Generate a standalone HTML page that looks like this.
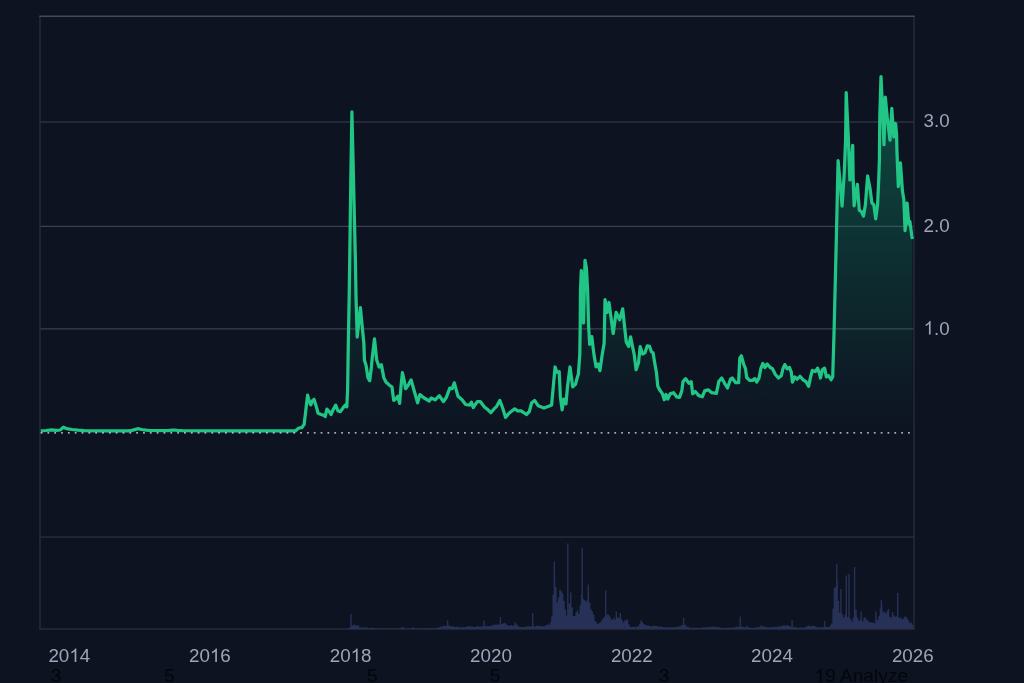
<!DOCTYPE html>
<html lang="en">
<head>
<meta charset="utf-8">
<title>XRP price chart</title>
<style>
html,body{margin:0;padding:0;background:#0d1321;}
body{width:1024px;height:683px;overflow:hidden;position:relative;font-family:"Liberation Sans",sans-serif;}
svg{position:absolute;left:0;top:0;display:block;will-change:transform;}
text{font-family:"Liberation Sans",sans-serif;}
</style>
</head>
<body>
<svg width="1024" height="683" viewBox="0 0 1024 683">
<defs>
<linearGradient id="g" gradientUnits="userSpaceOnUse" x1="0" y1="60" x2="0" y2="432">
<stop offset="0" stop-color="#10b981" stop-opacity="0.36"/>
<stop offset="1" stop-color="#10b981" stop-opacity="0"/>
</linearGradient>
</defs>
<rect x="0" y="0" width="1024" height="683" fill="#0d1321"/>
<!-- grid -->
<g stroke="#394151" stroke-width="1.2" fill="none">
<line x1="40" y1="122" x2="914" y2="122"/>
<line x1="40" y1="226.4" x2="914" y2="226.4"/>
<line x1="40" y1="328.8" x2="914" y2="328.8"/>
</g>
<!-- frame -->
<g fill="none" stroke-width="1.4">
<line x1="40" y1="16" x2="40" y2="629.6" stroke="#262d3d"/>
<line x1="914" y1="16" x2="914" y2="629.6" stroke="#262d3d"/>
<line x1="39.3" y1="629" x2="914.7" y2="629" stroke="#262d3d"/>
<line x1="39.3" y1="537" x2="914.7" y2="537" stroke="#262d3d"/>
<line x1="39.3" y1="16.2" x2="914.7" y2="16.2" stroke="#434a5a"/>
</g>
<!-- volume -->
<path d="M347.70 629V628.5M349.06 629V628.4M350.41 629V627.0M351.76 629V625.8M353.11 629V625.2M354.46 629V624.3M355.82 629V626.0M357.17 629V625.2M358.52 629V625.5M359.87 629V627.6M361.22 629V627.5M362.58 629V627.2M363.93 629V627.6M365.28 629V627.4M366.63 629V627.3M367.98 629V627.7M369.34 629V628.2M370.69 629V628.0M372.04 629V627.4M373.39 629V628.1M374.74 629V628.2M376.10 629V628.5M377.45 629V628.5M378.80 629V628.5M380.15 629V628.5M381.50 629V628.4M382.86 629V628.5M384.21 629V628.5M385.56 629V628.5M386.91 629V628.5M388.26 629V628.5M389.62 629V628.6M392.32 629V628.6M393.67 629V628.5M395.02 629V628.6M396.38 629V628.6M397.73 629V628.5M399.08 629V628.6M400.43 629V628.4M401.78 629V627.4M403.14 629V626.8M404.49 629V628.5M405.84 629V628.4M407.19 629V628.4M408.54 629V628.3M409.90 629V628.4M411.25 629V628.5M412.60 629V627.6M413.95 629V627.6M415.30 629V628.4M416.66 629V628.4M418.01 629V628.5M419.36 629V628.4M420.71 629V628.5M422.06 629V628.3M423.42 629V628.3M424.77 629V628.3M426.12 629V628.2M427.47 629V628.4M428.82 629V628.3M430.18 629V628.3M431.53 629V628.3M432.88 629V628.3M434.23 629V628.2M435.58 629V628.2M436.94 629V628.0M438.29 629V627.4M439.64 629V627.3M440.99 629V626.5M442.34 629V626.4M443.70 629V625.8M445.05 629V625.7M446.40 629V626.3M447.75 629V626.1M449.10 629V625.6M450.46 629V626.5M451.81 629V626.1M453.16 629V626.6M454.51 629V626.9M455.86 629V627.1M457.22 629V626.6M458.57 629V627.3M459.92 629V627.2M461.27 629V627.2M462.62 629V626.9M463.98 629V627.4M465.33 629V626.9M466.68 629V626.7M468.03 629V626.3M469.38 629V626.2M470.74 629V626.2M472.09 629V626.8M473.44 629V626.8M474.79 629V626.9M476.14 629V626.5M477.50 629V626.1M478.85 629V626.7M480.20 629V626.5M481.55 629V626.4M482.90 629V626.4M484.26 629V626.1M485.61 629V626.0M486.96 629V626.3M488.31 629V626.6M489.66 629V626.0M491.02 629V626.0M492.37 629V625.6M493.72 629V624.7M495.07 629V624.8M496.42 629V624.8M497.78 629V624.5M499.13 629V624.4M500.48 629V625.5M501.83 629V624.0M503.18 629V623.6M504.54 629V622.8M505.89 629V623.8M507.24 629V625.2M508.59 629V625.5M509.94 629V625.9M511.30 629V625.0M512.65 629V625.8M514.00 629V625.2M515.35 629V622.2M516.70 629V624.4M518.06 629V626.0M519.41 629V626.7M520.76 629V627.0M522.11 629V627.1M523.46 629V627.1M524.82 629V626.8M526.17 629V627.0M527.52 629V626.1M528.87 629V626.3M530.22 629V626.6M531.58 629V626.4M532.93 629V626.3M534.28 629V626.3M535.63 629V626.6M536.98 629V625.7M538.34 629V625.6M539.69 629V626.2M541.04 629V626.0M542.39 629V626.4M543.74 629V626.2M545.10 629V625.7M546.45 629V625.6M547.80 629V624.2M549.15 629V624.9M550.50 629V622.5M551.86 629V616.4M553.21 629V594.8M554.56 629V575.2M555.91 629V587.0M557.26 629V602.3M558.62 629V597.4M559.97 629V589.7M561.32 629V591.2M562.67 629V593.4M564.02 629V601.0M565.38 629V609.4M566.73 629V615.8M568.08 629V609.4M569.43 629V603.4M570.78 629V592.6M572.14 629V607.6M573.49 629V616.2M574.84 629V616.1M576.19 629V612.2M577.54 629V610.6M578.90 629V613.8M580.25 629V605.4M581.60 629V594.8M582.95 629V598.8M584.30 629V599.8M585.66 629V601.3M587.01 629V600.5M588.36 629V594.2M589.71 629V602.6M591.06 629V609.4M592.42 629V611.4M593.77 629V615.0M595.12 629V621.1M596.47 629V622.3M597.82 629V624.0M599.18 629V622.9M600.53 629V622.3M601.88 629V620.3M603.23 629V617.9M604.58 629V616.7M605.94 629V616.7M607.29 629V614.6M608.64 629V614.7M609.99 629V616.5M611.34 629V619.3M612.70 629V619.3M614.05 629V617.7M615.40 629V620.0M616.75 629V618.0M618.10 629V617.4M619.46 629V618.1M620.81 629V618.7M622.16 629V620.2M623.51 629V622.5M624.86 629V620.5M626.22 629V620.2M627.57 629V619.6M628.92 629V624.5M630.27 629V626.8M631.62 629V627.2M632.98 629V626.8M634.33 629V626.8M635.68 629V627.2M637.03 629V626.7M638.38 629V626.0M639.74 629V624.1M641.09 629V620.3M642.44 629V622.1M643.79 629V623.9M645.14 629V624.7M646.50 629V625.3M647.85 629V625.8M649.20 629V625.6M650.55 629V626.3M651.90 629V626.5M653.26 629V625.4M654.61 629V625.9M655.96 629V626.1M657.31 629V625.9M658.66 629V626.7M660.02 629V626.5M661.37 629V626.6M662.72 629V627.2M664.07 629V627.2M665.42 629V627.2M666.78 629V627.3M668.13 629V627.1M669.48 629V627.4M670.83 629V627.3M672.18 629V627.5M673.54 629V626.9M674.89 629V627.3M676.24 629V627.1M677.59 629V626.8M678.94 629V626.2M680.30 629V626.4M681.65 629V625.0M683.00 629V625.2M684.35 629V624.8M685.70 629V625.2M687.06 629V626.7M688.41 629V626.8M689.76 629V627.6M691.11 629V627.9M692.46 629V627.5M693.82 629V627.9M695.17 629V627.8M696.52 629V627.7M697.87 629V627.8M699.22 629V628.0M700.58 629V627.8M701.93 629V627.6M703.28 629V627.3M704.63 629V627.5M705.98 629V627.1M707.34 629V627.3M708.69 629V627.2M710.04 629V626.7M711.39 629V626.9M712.74 629V626.8M714.10 629V626.8M715.45 629V626.7M716.80 629V627.2M718.15 629V627.1M719.50 629V627.5M720.86 629V627.7M722.21 629V627.8M723.56 629V627.9M724.91 629V627.9M726.26 629V627.9M727.62 629V627.7M728.97 629V627.8M730.32 629V627.7M731.67 629V627.5M733.02 629V627.7M734.38 629V627.4M735.73 629V626.9M737.08 629V626.7M738.43 629V627.0M739.78 629V626.8M741.14 629V626.2M742.49 629V626.9M743.84 629V627.1M745.19 629V627.4M746.54 629V625.7M747.90 629V627.2M749.25 629V627.4M750.60 629V627.9M751.95 629V627.7M753.30 629V627.8M754.66 629V628.1M756.01 629V627.5M757.36 629V627.1M758.71 629V627.3M760.06 629V626.4M761.42 629V625.3M762.77 629V626.6M764.12 629V626.5M765.47 629V626.7M766.82 629V627.3M768.18 629V627.2M769.53 629V627.2M770.88 629V627.3M772.23 629V627.3M773.58 629V627.1M774.94 629V626.7M776.29 629V627.2M777.64 629V626.5M778.99 629V626.4M780.34 629V626.6M781.70 629V626.0M783.05 629V625.4M784.40 629V625.3M785.75 629V625.8M787.10 629V625.1M788.46 629V625.8M789.81 629V625.8M791.16 629V626.9M792.51 629V626.9M793.86 629V627.3M795.22 629V626.9M796.57 629V627.5M797.92 629V627.8M799.27 629V627.6M800.62 629V627.3M801.98 629V627.4M803.33 629V627.7M804.68 629V627.5M806.03 629V626.4M807.38 629V626.2M808.74 629V625.5M810.09 629V626.3M811.44 629V626.3M812.79 629V625.5M814.14 629V625.9M815.50 629V626.5M816.85 629V627.1M818.20 629V627.4M819.55 629V627.2M820.90 629V627.6M822.26 629V626.9M823.61 629V627.4M824.96 629V626.7M826.31 629V626.9M827.66 629V627.1M829.02 629V627.1M830.37 629V625.6M831.72 629V623.4M833.07 629V608.6M834.42 629V588.0M835.78 629V587.0M837.13 629V580.4M838.48 629V601.1M839.83 629V612.8M841.18 629V612.5M842.54 629V614.3M843.89 629V617.7M845.24 629V614.8M846.59 629V617.7M847.94 629V617.1M849.30 629V619.1M850.65 629V618.9M852.00 629V621.7M853.35 629V617.7M854.70 629V615.4M856.06 629V609.5M857.41 629V617.4M858.76 629V620.8M860.11 629V620.1M861.46 629V618.4M862.82 629V621.4M864.17 629V617.4M865.52 629V617.6M866.87 629V619.5M868.22 629V621.1M869.58 629V622.3M870.93 629V622.0M872.28 629V622.8M873.63 629V622.6M874.98 629V623.4M876.34 629V621.2M877.69 629V619.7M879.04 629V615.7M880.39 629V608.4M881.74 629V604.7M883.10 629V612.3M884.45 629V611.4M885.80 629V613.4M887.15 629V610.8M888.50 629V609.0M889.86 629V616.8M891.21 629V617.4M892.56 629V612.1M893.91 629V615.6M895.26 629V616.7M896.62 629V616.3M897.97 629V617.5M899.32 629V618.0M900.67 629V617.2M902.02 629V619.6M903.38 629V618.4M904.73 629V616.7M906.08 629V616.8M907.43 629V618.8M908.78 629V620.8M910.14 629V623.2M911.49 629V622.2M912.84 629V624.8M351.00 629V614.0M447.60 629V620.5M484.00 629V620.5M500.40 629V617.0M532.70 629V613.0M567.80 629V543.5M582.20 629V548.0M605.70 629V590.5M616.30 629V611.5M620.30 629V613.0M683.60 629V618.0M740.20 629V616.5M792.10 629V620.0M824.60 629V621.0M840.90 629V589.0M846.30 629V575.5M849.00 629V574.0M854.60 629V567.0M861.10 629V611.5M875.90 629V611.5M897.70 629V593.0M836.80 629V564.0M881.30 629V600.0M554.30 629V561.5M588.20 629V584.5" stroke="#273157" stroke-width="1.4" fill="none"/>
<!-- area + line -->
<path d="M40.8 430.9 L46.0 430.5 L51.5 429.8 L56.5 430.4 L60.5 430.0 L62.0 428.3 L63.5 427.2 L65.5 428.2 L68.0 428.9 L72.0 429.5 L78.0 430.2 L84.0 430.6 L100.0 430.8 L128.0 430.8 L132.0 430.4 L135.5 429.4 L138.6 428.7 L141.5 429.5 L146.0 430.2 L150.0 430.5 L168.0 430.6 L172.0 430.2 L174.0 430.0 L177.0 430.4 L182.0 430.7 L230.0 430.8 L290.0 430.9 L295.3 430.9 L298.8 428.0 L301.7 427.7 L304.1 424.5 L305.8 410.4 L307.6 395.2 L309.3 401.6 L310.8 404.8 L312.3 401.0 L314.0 399.3 L316.4 406.9 L318.1 413.3 L321.1 414.5 L323.4 415.1 L325.2 416.6 L326.9 409.2 L329.3 411.6 L331.0 414.5 L333.4 409.2 L335.7 405.1 L338.0 411.0 L340.4 411.6 L343.3 407.5 L345.1 405.1 L346.8 406.9 L347.6 390.0 L348.3 344.0 L349.2 296.0 L350.8 180.0 L351.9 111.8 L353.5 180.0 L355.4 260.0 L356.0 296.0 L357.2 337.0 L360.4 307.7 L363.9 344.0 L364.4 360.0 L366.2 365.9 L367.9 377.6 L369.7 380.7 L371.4 367.0 L372.0 360.0 L374.5 338.8 L376.7 360.0 L379.1 367.0 L381.4 364.7 L383.8 377.6 L386.1 382.3 L389.6 385.2 L392.0 387.0 L393.7 400.4 L396.1 398.7 L397.8 396.3 L399.6 403.4 L401.3 383.4 L402.4 372.6 L404.3 381.1 L405.6 388.7 L408.2 385.2 L411.1 379.9 L414.1 390.5 L417.6 402.8 L419.9 394.6 L423.4 397.5 L429.3 401.0 L431.1 398.1 L435.2 399.8 L439.3 395.7 L443.4 401.6 L446.3 397.5 L449.8 388.1 L452.2 388.7 L454.3 382.9 L458.0 396.3 L462.1 399.8 L465.6 404.5 L469.7 405.1 L471.5 402.2 L473.2 407.5 L477.3 401.6 L480.3 401.6 L484.4 406.9 L487.3 409.2 L490.8 412.7 L493.8 409.2 L496.7 406.3 L499.8 400.4 L503.1 409.2 L505.5 417.4 L509.0 413.3 L514.7 408.8 L517.6 410.9 L521.1 410.9 L526.4 414.5 L529.3 411.5 L531.7 402.7 L534.6 400.4 L538.1 405.7 L544.0 408.0 L548.7 406.3 L551.6 405.1 L553.4 385.2 L555.1 367.0 L556.9 372.3 L559.2 371.7 L560.4 396.9 L562.1 409.8 L563.9 399.2 L566.0 403.9 L567.4 387.5 L570.0 367.0 L572.7 386.9 L575.6 384.0 L577.4 377.0 L578.4 374.0 L579.8 354.0 L580.2 326.0 L580.5 290.0 L581.3 270.5 L583.5 323.0 L585.0 260.3 L586.4 268.0 L587.6 290.0 L588.6 326.0 L589.7 344.3 L591.8 336.6 L593.9 354.1 L596.0 366.8 L598.1 364.0 L599.9 370.7 L602.3 354.1 L604.1 343.6 L604.5 326.0 L605.0 299.6 L607.1 312.5 L609.0 302.5 L613.2 333.5 L616.1 312.3 L619.6 319.7 L622.7 308.8 L624.5 326.0 L626.3 342.2 L628.7 346.4 L630.6 336.8 L632.6 347.0 L634.2 354.4 L636.1 369.7 L638.5 362.8 L640.2 346.7 L642.6 354.0 L644.9 352.9 L647.3 345.8 L649.6 346.4 L651.4 351.7 L653.1 352.9 L654.9 364.0 L656.4 372.2 L657.8 386.3 L659.6 389.8 L662.5 393.9 L664.3 399.7 L666.0 394.5 L667.8 399.1 L670.1 393.9 L673.6 392.7 L676.6 396.8 L679.5 397.4 L681.8 390.9 L683.0 381.6 L685.7 378.6 L688.9 383.3 L691.2 381.6 L692.7 393.9 L695.3 391.5 L698.8 395.6 L702.3 396.8 L704.7 390.9 L708.2 389.8 L711.7 392.7 L716.4 393.3 L718.8 381.6 L721.7 378.0 L724.6 383.3 L727.5 388.0 L730.5 379.2 L732.2 378.0 L735.7 382.7 L738.6 382.7 L739.8 358.1 L741.4 355.8 L743.6 364.0 L745.5 368.7 L746.7 377.5 L749.6 380.4 L752.6 380.4 L754.9 378.6 L756.7 382.1 L759.0 378.0 L760.8 368.7 L762.9 363.4 L764.9 367.5 L767.2 364.0 L770.2 367.5 L772.5 368.7 L775.4 374.5 L778.4 378.0 L781.3 375.7 L783.0 368.7 L784.8 364.6 L787.1 368.7 L789.5 367.5 L791.3 372.2 L792.4 382.1 L794.8 376.9 L797.1 379.2 L800.0 376.3 L803.0 379.8 L805.9 381.6 L808.6 386.3 L810.6 376.9 L812.3 370.4 L815.3 371.6 L817.6 368.1 L819.4 373.4 L820.5 378.0 L822.3 369.8 L824.6 368.1 L826.4 376.9 L828.7 375.7 L831.1 379.8 L832.7 377.0 L834.1 330.0 L836.4 236.0 L838.1 160.7 L840.0 181.4 L842.1 206.2 L844.3 172.0 L845.6 140.0 L846.2 92.6 L848.2 135.0 L849.9 180.0 L852.7 145.4 L853.1 176.0 L854.1 205.8 L857.4 184.3 L859.3 210.4 L861.2 211.4 L863.5 216.1 L865.4 204.8 L867.6 176.0 L870.1 188.9 L871.9 203.0 L873.8 204.8 L875.7 218.9 L877.6 204.8 L878.7 180.0 L879.4 160.0 L879.8 116.0 L881.0 76.6 L882.6 110.0 L884.0 144.6 L885.3 97.2 L887.3 118.0 L890.0 140.2 L891.8 108.3 L893.8 137.0 L895.6 123.5 L896.6 135.0 L896.9 150.0 L898.3 186.5 L900.4 162.8 L902.4 190.8 L903.8 199.2 L905.1 230.6 L907.1 203.0 L908.8 224.0 L909.9 221.5 L911.8 236.0 L912.4 239.0 L912.4 432 L40.8 432 Z" fill="url(#g)" stroke="none"/>
<path d="M40.8 430.9 L46.0 430.5 L51.5 429.8 L56.5 430.4 L60.5 430.0 L62.0 428.3 L63.5 427.2 L65.5 428.2 L68.0 428.9 L72.0 429.5 L78.0 430.2 L84.0 430.6 L100.0 430.8 L128.0 430.8 L132.0 430.4 L135.5 429.4 L138.6 428.7 L141.5 429.5 L146.0 430.2 L150.0 430.5 L168.0 430.6 L172.0 430.2 L174.0 430.0 L177.0 430.4 L182.0 430.7 L230.0 430.8 L290.0 430.9 L295.3 430.9 L298.8 428.0 L301.7 427.7 L304.1 424.5 L305.8 410.4 L307.6 395.2 L309.3 401.6 L310.8 404.8 L312.3 401.0 L314.0 399.3 L316.4 406.9 L318.1 413.3 L321.1 414.5 L323.4 415.1 L325.2 416.6 L326.9 409.2 L329.3 411.6 L331.0 414.5 L333.4 409.2 L335.7 405.1 L338.0 411.0 L340.4 411.6 L343.3 407.5 L345.1 405.1 L346.8 406.9 L347.6 390.0 L348.3 344.0 L349.2 296.0 L350.8 180.0 L351.9 111.8 L353.5 180.0 L355.4 260.0 L356.0 296.0 L357.2 337.0 L360.4 307.7 L363.9 344.0 L364.4 360.0 L366.2 365.9 L367.9 377.6 L369.7 380.7 L371.4 367.0 L372.0 360.0 L374.5 338.8 L376.7 360.0 L379.1 367.0 L381.4 364.7 L383.8 377.6 L386.1 382.3 L389.6 385.2 L392.0 387.0 L393.7 400.4 L396.1 398.7 L397.8 396.3 L399.6 403.4 L401.3 383.4 L402.4 372.6 L404.3 381.1 L405.6 388.7 L408.2 385.2 L411.1 379.9 L414.1 390.5 L417.6 402.8 L419.9 394.6 L423.4 397.5 L429.3 401.0 L431.1 398.1 L435.2 399.8 L439.3 395.7 L443.4 401.6 L446.3 397.5 L449.8 388.1 L452.2 388.7 L454.3 382.9 L458.0 396.3 L462.1 399.8 L465.6 404.5 L469.7 405.1 L471.5 402.2 L473.2 407.5 L477.3 401.6 L480.3 401.6 L484.4 406.9 L487.3 409.2 L490.8 412.7 L493.8 409.2 L496.7 406.3 L499.8 400.4 L503.1 409.2 L505.5 417.4 L509.0 413.3 L514.7 408.8 L517.6 410.9 L521.1 410.9 L526.4 414.5 L529.3 411.5 L531.7 402.7 L534.6 400.4 L538.1 405.7 L544.0 408.0 L548.7 406.3 L551.6 405.1 L553.4 385.2 L555.1 367.0 L556.9 372.3 L559.2 371.7 L560.4 396.9 L562.1 409.8 L563.9 399.2 L566.0 403.9 L567.4 387.5 L570.0 367.0 L572.7 386.9 L575.6 384.0 L577.4 377.0 L578.4 374.0 L579.8 354.0 L580.2 326.0 L580.5 290.0 L581.3 270.5 L583.5 323.0 L585.0 260.3 L586.4 268.0 L587.6 290.0 L588.6 326.0 L589.7 344.3 L591.8 336.6 L593.9 354.1 L596.0 366.8 L598.1 364.0 L599.9 370.7 L602.3 354.1 L604.1 343.6 L604.5 326.0 L605.0 299.6 L607.1 312.5 L609.0 302.5 L613.2 333.5 L616.1 312.3 L619.6 319.7 L622.7 308.8 L624.5 326.0 L626.3 342.2 L628.7 346.4 L630.6 336.8 L632.6 347.0 L634.2 354.4 L636.1 369.7 L638.5 362.8 L640.2 346.7 L642.6 354.0 L644.9 352.9 L647.3 345.8 L649.6 346.4 L651.4 351.7 L653.1 352.9 L654.9 364.0 L656.4 372.2 L657.8 386.3 L659.6 389.8 L662.5 393.9 L664.3 399.7 L666.0 394.5 L667.8 399.1 L670.1 393.9 L673.6 392.7 L676.6 396.8 L679.5 397.4 L681.8 390.9 L683.0 381.6 L685.7 378.6 L688.9 383.3 L691.2 381.6 L692.7 393.9 L695.3 391.5 L698.8 395.6 L702.3 396.8 L704.7 390.9 L708.2 389.8 L711.7 392.7 L716.4 393.3 L718.8 381.6 L721.7 378.0 L724.6 383.3 L727.5 388.0 L730.5 379.2 L732.2 378.0 L735.7 382.7 L738.6 382.7 L739.8 358.1 L741.4 355.8 L743.6 364.0 L745.5 368.7 L746.7 377.5 L749.6 380.4 L752.6 380.4 L754.9 378.6 L756.7 382.1 L759.0 378.0 L760.8 368.7 L762.9 363.4 L764.9 367.5 L767.2 364.0 L770.2 367.5 L772.5 368.7 L775.4 374.5 L778.4 378.0 L781.3 375.7 L783.0 368.7 L784.8 364.6 L787.1 368.7 L789.5 367.5 L791.3 372.2 L792.4 382.1 L794.8 376.9 L797.1 379.2 L800.0 376.3 L803.0 379.8 L805.9 381.6 L808.6 386.3 L810.6 376.9 L812.3 370.4 L815.3 371.6 L817.6 368.1 L819.4 373.4 L820.5 378.0 L822.3 369.8 L824.6 368.1 L826.4 376.9 L828.7 375.7 L831.1 379.8 L832.7 377.0 L834.1 330.0 L836.4 236.0 L838.1 160.7 L840.0 181.4 L842.1 206.2 L844.3 172.0 L845.6 140.0 L846.2 92.6 L848.2 135.0 L849.9 180.0 L852.7 145.4 L853.1 176.0 L854.1 205.8 L857.4 184.3 L859.3 210.4 L861.2 211.4 L863.5 216.1 L865.4 204.8 L867.6 176.0 L870.1 188.9 L871.9 203.0 L873.8 204.8 L875.7 218.9 L877.6 204.8 L878.7 180.0 L879.4 160.0 L879.8 116.0 L881.0 76.6 L882.6 110.0 L884.0 144.6 L885.3 97.2 L887.3 118.0 L890.0 140.2 L891.8 108.3 L893.8 137.0 L895.6 123.5 L896.6 135.0 L896.9 150.0 L898.3 186.5 L900.4 162.8 L902.4 190.8 L903.8 199.2 L905.1 230.6 L907.1 203.0 L908.8 224.0 L909.9 221.5 L911.8 236.0 L912.4 239.0" fill="none" stroke="#21c585" stroke-width="3.25" stroke-linejoin="round" stroke-linecap="butt"/>
<line x1="40.6" y1="432.95" x2="914" y2="432.95" stroke="#e0e0e6" stroke-width="1.3" stroke-dasharray="1.8 5.03"/>
<!-- axis labels -->
<text x="48.39" y="662.00" font-size="18.8" fill="#9fa5b8">20</text>
<path d="M763 0H583V1147Q518 1085 412.5 1023T223 930V1104Q373 1174.5 485 1275T644 1470H763Z" fill="#9fa5b8" transform="translate(69.30 662.00) scale(0.00918 -0.00918)"/>
<text x="79.75" y="662.00" font-size="18.8" fill="#9fa5b8">4</text>
<text x="188.99" y="662.00" font-size="18.8" fill="#9fa5b8">20</text>
<path d="M763 0H583V1147Q518 1085 412.5 1023T223 930V1104Q373 1174.5 485 1275T644 1470H763Z" fill="#9fa5b8" transform="translate(209.90 662.00) scale(0.00918 -0.00918)"/>
<text x="220.35" y="662.00" font-size="18.8" fill="#9fa5b8">6</text>
<text x="329.69" y="662.00" font-size="18.8" fill="#9fa5b8">20</text>
<path d="M763 0H583V1147Q518 1085 412.5 1023T223 930V1104Q373 1174.5 485 1275T644 1470H763Z" fill="#9fa5b8" transform="translate(350.60 662.00) scale(0.00918 -0.00918)"/>
<text x="361.05" y="662.00" font-size="18.8" fill="#9fa5b8">8</text>
<text x="470.09" y="662.00" font-size="18.8" fill="#9fa5b8">2020</text>
<text x="610.89" y="662.00" font-size="18.8" fill="#9fa5b8">2022</text>
<text x="751.09" y="662.00" font-size="18.8" fill="#9fa5b8">2024</text>
<text x="891.89" y="662.00" font-size="18.8" fill="#9fa5b8">2026</text>
<text x="923.60" y="127.30" font-size="18.8" fill="#9fa5b8">3.0</text>
<text x="923.60" y="231.90" font-size="18.8" fill="#9fa5b8">2.0</text>
<path d="M763 0H583V1147Q518 1085 412.5 1023T223 930V1104Q373 1174.5 485 1275T644 1470H763Z" fill="#9fa5b8" transform="translate(923.60 334.60) scale(0.00918 -0.00918)"/>
<text x="934.05" y="334.60" font-size="18.8" fill="#9fa5b8">.0</text>
<text x="50.80" y="682.30" font-size="19.15" fill="#04060b">3</text>
<text x="163.90" y="682.30" font-size="19.15" fill="#04060b">5</text>
<text x="366.90" y="682.30" font-size="19.15" fill="#04060b">5</text>
<text x="489.70" y="682.30" font-size="19.15" fill="#04060b">5</text>
<text x="658.80" y="682.30" font-size="19.15" fill="#04060b">3</text>
<path d="M763 0H583V1147Q518 1085 412.5 1023T223 930V1104Q373 1174.5 485 1275T644 1470H763Z" fill="#04060b" transform="translate(814.40 682.30) scale(0.00935 -0.00935)"/>
<text x="825.05" y="682.30" font-size="19.15" fill="#04060b">9 Analyze</text>
</svg>
</body>
</html>
